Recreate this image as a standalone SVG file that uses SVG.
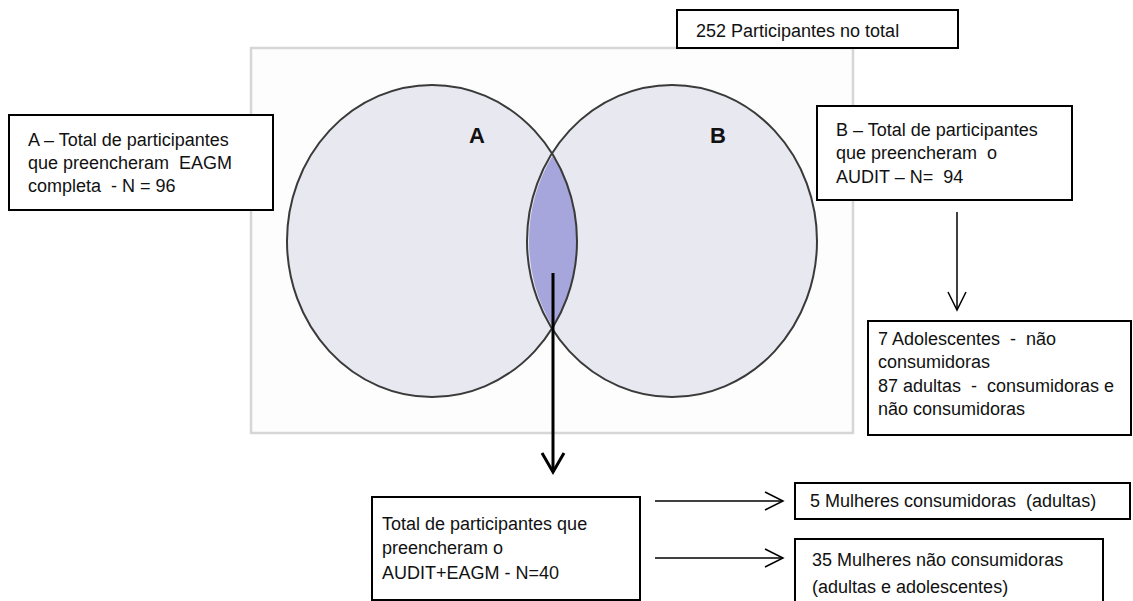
<svg xmlns="http://www.w3.org/2000/svg" width="1133" height="601" viewBox="0 0 1133 601">
<defs>
<style>
.box{fill:#fff;stroke:#000;stroke-width:2}
.t{font-family:"Liberation Sans",Arial,sans-serif;font-size:18px;fill:#111;white-space:pre}
.lbl{font-family:"Liberation Sans",Arial,sans-serif;font-size:22px;font-weight:bold;fill:#111}
.circ{fill:#e8e8f0}
.outline{fill:none;stroke:#3a3a3a;stroke-width:2}
.conn{stroke:#000;stroke-width:1.5;fill:none}
.connThick{stroke:#000;stroke-width:3;fill:none}
</style>
<marker id="head" markerUnits="userSpaceOnUse" markerWidth="22" markerHeight="22" viewBox="0 0 22 22" refX="19" refY="11" orient="auto">
<path d="M1,2 L19,11 L1,20" fill="none" stroke="#000" stroke-width="1.5"/>
</marker>
<marker id="headThick" markerUnits="userSpaceOnUse" markerWidth="26" markerHeight="26" viewBox="0 0 26 26" refX="22" refY="13" orient="auto">
<path d="M3,2 L22,13 L3,24" fill="none" stroke="#000" stroke-width="3"/>
</marker>
</defs>
<rect width="1133" height="601" fill="#fff"/>

<g id="venn">
<rect x="251" y="48" width="602" height="385" fill="#fdfdfd" stroke="#d6d6d6" stroke-width="2.5"/>
<ellipse class="circ" cx="432" cy="241" rx="145" ry="156"/>
<ellipse class="circ" cx="672" cy="241" rx="145" ry="156"/>
<path d="M553,155 A145,156 0 0,0 553,327 A145,156 0 0,0 553,155 Z" fill="#a6a6dc"/>
<ellipse class="outline" cx="432" cy="241" rx="145" ry="156"/>
<ellipse class="outline" cx="672" cy="241" rx="145" ry="156"/>
<text class="lbl" x="477" y="143" text-anchor="middle">A</text>
<text class="lbl" x="718" y="143" text-anchor="middle">B</text>
</g>

<g id="total">
<rect class="box" x="677" y="10" width="281" height="38"/>
<text class="t" x="696" y="37">252 Participantes no total</text>
</g>

<g id="boxA">
<rect class="box" x="9" y="115" width="264" height="95"/>
<text class="t" x="28" y="146">A – Total de participantes</text>
<text class="t" x="28" y="169">que preencheram  EAGM</text>
<text class="t" x="28" y="192">completa  - N = 96</text>
</g>

<g id="boxB">
<rect class="box" x="817" y="106" width="255" height="94"/>
<text class="t" x="836" y="136">B – Total de participantes</text>
<text class="t" x="836" y="159">que preencheram  o</text>
<text class="t" x="836" y="183">AUDIT – N=  94</text>
</g>

<g id="adolescentes">
<rect class="box" x="868" y="321" width="263" height="114"/>
<text class="t" x="878" y="345">7 Adolescentes  -  não</text>
<text class="t" x="878" y="368">consumidoras</text>
<text class="t" x="878" y="392">87 adultas  -  consumidoras e</text>
<text class="t" x="878" y="415">não consumidoras</text>
</g>

<g id="intersecao">
<rect class="box" x="372" y="497" width="268" height="103"/>
<text class="t" x="382" y="530">Total de participantes que</text>
<text class="t" x="382" y="554">preencheram o</text>
<text class="t" x="382" y="579">AUDIT+EAGM - N=40</text>
</g>

<g id="consumidoras">
<rect class="box" x="795" y="483" width="335" height="36"/>
<text class="t" x="810" y="507">5 Mulheres consumidoras  (adultas)</text>
</g>

<g id="naoConsumidoras">
<rect class="box" x="795" y="539" width="308" height="66"/>
<text class="t" x="812" y="566">35 Mulheres não consumidoras</text>
<text class="t" x="812" y="593">(adultas e adolescentes)</text>
</g>

<g id="connectors">
<line class="connThick" x1="553" y1="273" x2="553" y2="472" marker-end="url(#headThick)"/>
<line class="conn" x1="957" y1="212" x2="957" y2="310" marker-end="url(#head)"/>
<line class="conn" x1="655" y1="501" x2="783" y2="501" marker-end="url(#head)"/>
<line class="conn" x1="655" y1="558" x2="783" y2="558" marker-end="url(#head)"/>
</g>
</svg>
